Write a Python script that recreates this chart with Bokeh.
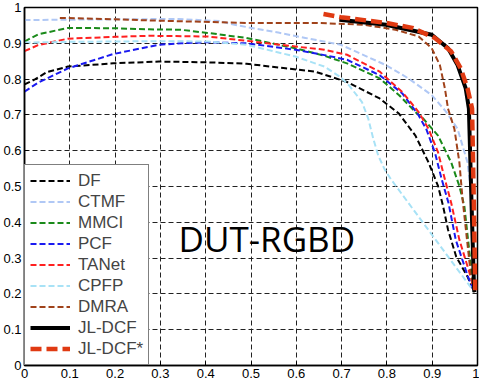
from bokeh.plotting import figure
from bokeh.models import Range1d, FixedTicker, Label
from bokeh.embed import file_html
from bokeh.resources import INLINE

tick_values = [0, 0.1, 0.2, 0.3, 0.4, 0.5, 0.6, 0.7, 0.8, 0.9, 1.0]
tick_labels = ["0", "0.1", "0.2", "0.3", "0.4", "0.5", "0.6", "0.7", "0.8", "0.9", "1"]

df_x = [0, 0.024, 0.05, 0.096, 0.196, 0.297, 0.40, 0.49, 0.576, 0.641, 0.712, 0.784, 0.827, 0.863, 0.892, 0.913, 0.924, 0.935, 0.953, 0.978, 0.993]
df_y = [0.785, 0.80, 0.82, 0.835, 0.844, 0.849, 0.847, 0.843, 0.830, 0.821, 0.792, 0.746, 0.703, 0.642, 0.567, 0.501, 0.445, 0.379, 0.304, 0.248, 0.205]

ctmf_x = [0, 0.1, 0.2, 0.34, 0.43, 0.47, 0.56, 0.62, 0.698, 0.798, 0.85, 0.899, 0.93, 0.956, 0.978, 0.985, 0.990, 0.993]
ctmf_y = [0.965, 0.966, 0.967, 0.968, 0.962, 0.950, 0.930, 0.915, 0.896, 0.839, 0.800, 0.755, 0.710, 0.661, 0.567, 0.492, 0.400, 0.205]

mmci_x = [0, 0.03, 0.096, 0.2, 0.275, 0.344, 0.404, 0.49, 0.598, 0.662, 0.712, 0.784, 0.827, 0.863, 0.880, 0.913, 0.942, 0.960, 0.971, 0.985, 0.993]
mmci_y = [0.905, 0.925, 0.943, 0.942, 0.939, 0.938, 0.929, 0.915, 0.886, 0.865, 0.844, 0.802, 0.755, 0.708, 0.690, 0.642, 0.567, 0.501, 0.445, 0.285, 0.205]

pcf_x = [0, 0.03, 0.096, 0.196, 0.297, 0.346, 0.404, 0.49, 0.598, 0.662, 0.712, 0.784, 0.834, 0.868, 0.887, 0.906, 0.921, 0.936, 0.952, 0.979, 0.993]
pcf_y = [0.765, 0.790, 0.830, 0.870, 0.896, 0.900, 0.903, 0.900, 0.882, 0.867, 0.854, 0.811, 0.760, 0.703, 0.660, 0.595, 0.520, 0.454, 0.351, 0.248, 0.205]

tanet_x = [0, 0.03, 0.096, 0.2, 0.275, 0.404, 0.49, 0.598, 0.662, 0.712, 0.784, 0.834, 0.870, 0.892, 0.913, 0.928, 0.942, 0.960, 0.985, 0.993]
tanet_y = [0.878, 0.895, 0.913, 0.918, 0.921, 0.919, 0.907, 0.891, 0.882, 0.868, 0.821, 0.764, 0.708, 0.661, 0.595, 0.520, 0.454, 0.351, 0.248, 0.205]

cpfp_x = [0, 0.1, 0.2, 0.3, 0.404, 0.49, 0.598, 0.662, 0.698, 0.716, 0.745, 0.759, 0.770, 0.781, 0.795, 0.809, 0.993]
cpfp_y = [0.902, 0.904, 0.905, 0.906, 0.905, 0.896, 0.863, 0.835, 0.805, 0.783, 0.736, 0.689, 0.633, 0.586, 0.548, 0.520, 0.205]

dmra_x = [0.078, 0.2, 0.3, 0.49, 0.641, 0.748, 0.819, 0.870, 0.899, 0.917, 0.928, 0.935, 0.949, 0.960, 0.967, 0.985, 0.993]
dmra_y = [0.971, 0.967, 0.963, 0.957, 0.957, 0.952, 0.938, 0.919, 0.886, 0.839, 0.774, 0.717, 0.661, 0.567, 0.465, 0.257, 0.205]

jl_x = [0.695, 0.798, 0.899, 0.935, 0.956, 0.974, 0.981, 0.987, 0.992, 0.993]
jl_y = [0.966, 0.952, 0.924, 0.886, 0.839, 0.774, 0.717, 0.445, 0.234, 0.205]

jls_x = [0.66, 0.698, 0.798, 0.856, 0.906, 0.942, 0.963, 0.978, 0.988, 0.992, 0.995]
jls_y = [0.982, 0.973, 0.957, 0.943, 0.915, 0.877, 0.830, 0.774, 0.718, 0.450, 0.210]

series = [
    ("DF", df_x, df_y, "#000000", 2, "6 3"),
    ("CTMF", ctmf_x, ctmf_y, "#B0C8F5", 2, "6 3"),
    ("MMCI", mmci_x, mmci_y, "#1A8A1A", 2, "6 3"),
    ("PCF", pcf_x, pcf_y, "#1A1AF0", 2, "6 3"),
    ("TANet", tanet_x, tanet_y, "#FF2020", 2, "6 3"),
    ("CPFP", cpfp_x, cpfp_y, "#A8E2F6", 2, "6 3"),
    ("DMRA", dmra_x, dmra_y, "#A0421A", 2, "6 3"),
    ("JL-DCF", jl_x, jl_y, "#000000", 4, "solid"),
    ("JL-DCF*", jls_x, jls_y, "#E03A12", 4.5, "11 5"),
]

p = figure(width=479, height=380, output_backend="svg", toolbar_location=None,
           x_range=Range1d(0, 1), y_range=Range1d(0, 1),
           min_border_top=7, min_border_right=2, min_border_left=0, min_border_bottom=0)

for name, xs, ys, col, w, dash in series:
    p.line(xs, ys, color=col, line_width=w, line_dash=dash, legend_label=name,
           line_join="round")

overrides = {v: s for v, s in zip(tick_values, tick_labels)}
for ax in (p.xaxis, p.yaxis):
    ax.ticker = FixedTicker(ticks=tick_values)
    ax.major_label_overrides = overrides
    ax.major_label_text_font = "Liberation Sans"
    ax.major_label_text_font_size = "13px"
    ax.major_label_text_color = "black"
    ax.major_tick_in = 4
    ax.major_tick_out = 0
    ax.minor_tick_line_color = None
    ax.axis_line_color = "black"
    ax.axis_line_width = 1.5
    ax.major_tick_line_color = "black"
    ax.major_label_standoff = 3

for g in (p.xgrid, p.ygrid):
    g.grid_line_color = "#222222"
    g.grid_line_dash = "5 3"
    g.grid_line_width = 1
    g.ticker = FixedTicker(ticks=tick_values)

p.outline_line_color = "black"
p.outline_line_width = 1.5

p.legend.location = "bottom_left"
p.legend.margin = 0
p.legend.padding = 5
p.legend.spacing = 0
p.legend.border_line_color = "black"
p.legend.border_line_width = 1.5
p.legend.background_fill_alpha = 1
p.legend.label_text_font = "Liberation Sans"
p.legend.label_text_font_size = "17px"
p.legend.glyph_width = 40
p.legend.glyph_height = 21
p.legend.label_height = 21
p.legend.label_standoff = 8

title = Label(x=0.535, y=0.355, text="DUT-RGBD", text_font="Open Sans",
              text_font_size="35px", text_align="center", text_baseline="alphabetic",
              text_color="black")
p.add_layout(title)

open("out.html", "w").write(file_html(p, INLINE))
